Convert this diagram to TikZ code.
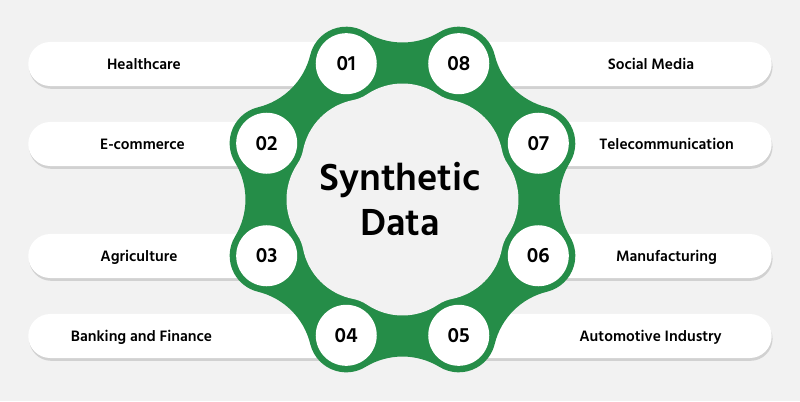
\documentclass[tikz,border=0pt]{standalone}
\usepackage{fontspec}
\setmainfont{Hind Siliguri}
\usetikzlibrary{calc,shadows}
\definecolor{ringgreen}{RGB}{37,141,72}
\definecolor{bggray}{RGB}{242,242,242}
\begin{document}
\begin{tikzpicture}[x=0.025cm,y=0.025cm]
  \tikzstyle{pill}=[rectangle,fill=white,rounded corners=0.55cm,minimum height=1.1cm,minimum width=8.25cm,inner sep=0pt,
    drop shadow={shadow xshift=0.6pt,shadow yshift=-2pt,fill=black!30,opacity=0.5}]
  \tikzstyle{num}=[circle,fill=white,minimum size=1.525cm,inner sep=0pt,font=\fontsize{15}{18}\selectfont\bfseries]
  \tikzstyle{field}=[anchor=base,font=\fontsize{11}{13}\selectfont\bfseries]
  \tikzstyle{bigtitle}=[anchor=base,font=\fontsize{27.5}{33}\selectfont\bfseries]

  \fill[bggray] (-402.5,-201.5) rectangle (397.5,199.5);

  % pills
  \node[pill,anchor=west] (p1) at (-374.5,135.5) {};
  \node[pill,anchor=west] (p2) at (-374.5,55.5) {};
  \node[pill,anchor=west] (p3) at (-374.5,-56.5) {};
  \node[pill,anchor=west] (p4) at (-374.5,-136.5) {};
  \node[pill,anchor=east] (p5) at (369.5,-136.5) {};
  \node[pill,anchor=east] (p6) at (369.5,-56.5) {};
  \node[pill,anchor=east] (p7) at (369.5,55.5) {};
  \node[pill,anchor=east] (p8) at (369.5,135.5) {};

  % green ring, outer edge
  \fill[ringgreen] ($(22.5:147)+(-31.39:37)$)
    \foreach \a in {22.5,67.5,...,337.5} {
      arc[start angle=\a-53.89,end angle=\a+53.89,radius=37]
      arc[start angle=\a+233.89,end angle=\a+171.11,radius=71.02]
    } -- cycle;
  % inner edge
  \fill[bggray] ($(22.5:147)+(213.98:37)$)
    \foreach \a in {22.5,67.5,...,337.5} {
      arc[start angle=\a+191.48,end angle=\a+168.52,radius=37]
      arc[start angle=\a-11.48,end angle=\a+56.48,radius=63.65]
    } -- cycle;

  \node[num] (n1) at (112.5:147) {01};
  \node[num] (n2) at (157.5:147) {02};
  \node[num] (n3) at (202.5:147) {03};
  \node[num] (n4) at (247.5:147) {04};
  \node[num] (n5) at (292.5:147) {05};
  \node[num] (n6) at (337.5:147) {06};
  \node[num] (n7) at (22.5:147) {07};
  \node[num] (n8) at (67.5:147) {08};

  \node[field] (t1) at (-258.5,130) {Healthcare};
  \node[field] (t2) at (-260,50) {E-commerce};
  \node[field] (t3) at (-263.5,-62) {Agriculture};
  \node[field] (t4) at (-261,-142) {Banking and Finance};
  \node[field] (t5) at (248,-142) {Automotive Industry};
  \node[field] (t6) at (264,-62) {Manufacturing};
  \node[field] (t7) at (264,50) {Telecommunication};
  \node[field] (t8) at (248.5,130) {Social Media};

  \node[bigtitle] (syn) at (-2.5,9.5) {Synthetic};
  \node[bigtitle] (dat) at (-2.5,-35.5) {Data};
\end{tikzpicture}
\end{document}
